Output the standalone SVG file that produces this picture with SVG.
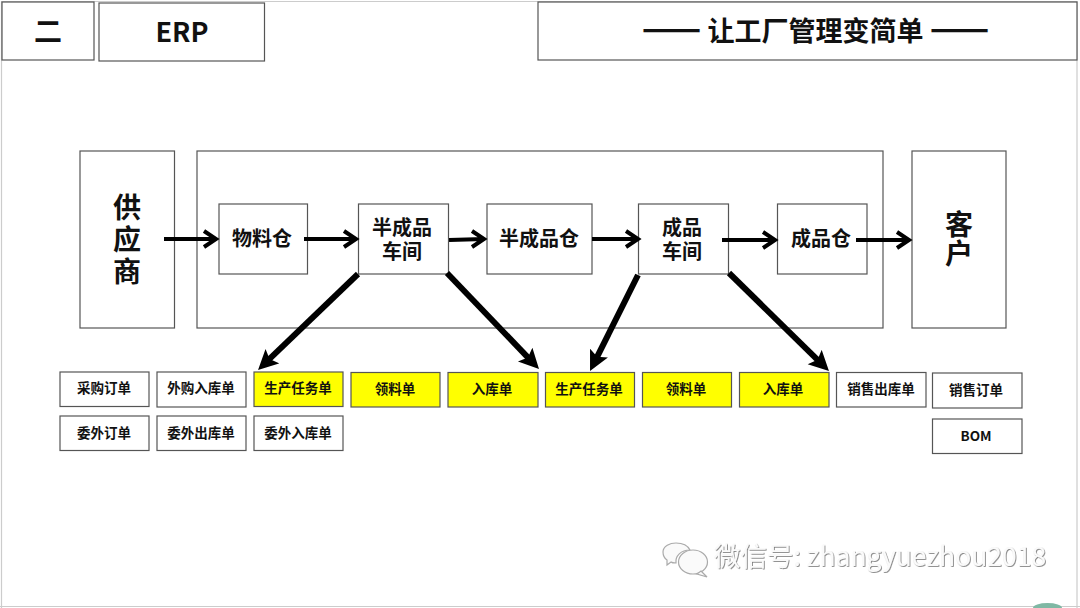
<svg xmlns="http://www.w3.org/2000/svg" width="1080" height="608" viewBox="0 0 1080 608">
<style>
text{font-family:"Noto Sans CJK SC","Liberation Sans",sans-serif;font-weight:700;fill:#111;text-anchor:middle}
.b{fill:#fff;stroke:#555;stroke-width:1.2}
.y{fill:#ffff00;stroke:#555;stroke-width:1.2}
.t{font-size:13.500px}
.m{font-size:20px}
.l{font-size:28px}
.c .a{stroke:#000;fill:none;stroke-width:4}
.c .d{stroke:#000;stroke-width:6;fill:none}
.wm{font-family:"Noto Sans CJK SC","Noto Sans",sans-serif;font-weight:400;fill:#fafafa;filter:url(#em);text-anchor:start}
</style>
<defs>
<marker id="tri" markerUnits="userSpaceOnUse" markerWidth="30" markerHeight="30" refX="8" refY="10" orient="auto"><path d="M0 0L20 10L0 20L4 10Z" fill="#000"/></marker>
<filter id="em" x="-5%" y="-20%" width="110%" height="140%"><feDropShadow dx="0.8" dy="0.8" stdDeviation="0.5" flood-color="#777"/></filter>
</defs>
<rect width="1080" height="608" fill="#fff"/>
<path d="M1.500 608V1.500H1077V608M0 606.500H1080" fill="none" stroke="#ccc" stroke-width="1.200"/>
<path d="M1033 608a14.500 5 0 0 1 29 0Z" fill="#7fb8a4"/>

<g id="n-er"><rect class="b" x="2" y="2" width="92" height="58"/><text x="48" y="42" style="font-size:28px">二</text></g>
<g id="n-erp"><rect class="b" x="99" y="3" width="165.500" height="58"/><text x="182" y="42" style="font-size:27px">ERP</text></g>
<g id="n-title"><rect class="b" x="538" y="2" width="539" height="58"/><text x="815.500" y="41" style="font-size:27px"><tspan style="font-size:35px">——</tspan> 让工厂管理变简单 <tspan style="font-size:35px">——</tspan></text></g>

<g id="n-factory"><rect class="b" x="197" y="151" width="686" height="177"/></g>
<g id="n-supplier"><rect class="b" x="80" y="151" width="94.500" height="177"/><text class="l" x="127" y="218">供<tspan x="127" y="250">应</tspan><tspan x="127" y="282">商</tspan></text></g>
<g id="n-customer"><rect class="b" x="912" y="151" width="94" height="177"/><text class="l" x="959" y="235">客<tspan x="959" y="264">户</tspan></text></g>

<g id="n-wh1"><rect class="b" x="219" y="204" width="88.500" height="70"/><text class="m" x="262" y="246">物料仓</text></g>
<g id="n-ws1"><rect class="b" x="358.500" y="204" width="90" height="70"/><text class="m" x="402" y="235">半成品<tspan x="402" y="259">车间</tspan></text></g>
<g id="n-wh2"><rect class="b" x="487" y="204" width="105" height="70"/><text class="m" x="539" y="246">半成品仓</text></g>
<g id="n-ws2"><rect class="b" x="638.500" y="204" width="90" height="70"/><text class="m" x="682" y="235">成品<tspan x="682" y="259">车间</tspan></text></g>
<g id="n-wh3"><rect class="b" x="777.500" y="204" width="89.500" height="70"/><text class="m" x="821" y="246">成品仓</text></g>

<g id="d1"><rect class="b" x="60" y="372" width="89" height="34.500"/><text class="t" x="104" y="393">采购订单</text></g>
<g id="d2"><rect class="b" x="157" y="372" width="89" height="35"/><text class="t" x="201" y="393">外购入库单</text></g>
<g id="d3"><rect class="y" x="254" y="372" width="89" height="34.500"/><text class="t" x="298" y="393">生产任务单</text></g>
<g id="d4"><rect class="y" x="351" y="372.500" width="89" height="34.500"/><text class="t" x="395" y="394">领料单</text></g>
<g id="d5"><rect class="y" x="448" y="372.500" width="90" height="34.500"/><text class="t" x="492" y="394">入库单</text></g>
<g id="d6"><rect class="y" x="545.500" y="372.500" width="89" height="34.500"/><text class="t" x="589" y="394">生产任务单</text></g>
<g id="d7"><rect class="y" x="642.500" y="372.500" width="89" height="34.500"/><text class="t" x="686" y="394">领料单</text></g>
<g id="d8"><rect class="y" x="739.500" y="372.500" width="89.500" height="34.500"/><text class="t" x="783" y="394">入库单</text></g>
<g id="d9"><rect class="b" x="836.500" y="372.500" width="89.500" height="34.500"/><text class="t" x="881" y="394">销售出库单</text></g>
<g id="d10"><rect class="b" x="932.500" y="373" width="89.500" height="35"/><text class="t" x="976" y="395">销售订单</text></g>
<g id="d11"><rect class="b" x="60" y="416" width="89" height="34.500"/><text class="t" x="104" y="438">委外订单</text></g>
<g id="d12"><rect class="b" x="157" y="416" width="89" height="34.500"/><text class="t" x="201" y="438">委外出库单</text></g>
<g id="d13"><rect class="b" x="254" y="416" width="89" height="34.500"/><text class="t" x="298" y="438">委外入库单</text></g>
<g id="d14"><rect class="b" x="932.500" y="419" width="89.500" height="34.500"/><text class="t" x="976" y="441">BOM</text></g>

<g id="connectors" class="c">
<path class="a" d="M164 239H216M204 231L216 239L204 247"/>
<path class="a" d="M304 239H356M344 231L356 239L344 247"/>
<path class="a" d="M449 240L484 239M472 231L484 239L472 247"/>
<path class="a" d="M592 239H638M626 231L638 239L626 247"/>
<path class="a" d="M722 240H775M763 232L775 240L763 248"/>
<path class="a" d="M856 240H909M897 232L909 240L897 248"/>
<line class="d" x1="358" y1="274" x2="266.700" y2="361.700" marker-end="url(#tri)"/>
<line class="d" x1="447" y1="273" x2="530.700" y2="360.400" marker-end="url(#tri)"/>
<line class="d" x1="638" y1="275" x2="595.400" y2="360.300" marker-end="url(#tri)"/>
<line class="d" x1="729" y1="273" x2="820.400" y2="362.600" marker-end="url(#tri)"/>
</g>

<g id="watermark">
<g fill="#fafafa" stroke="#aaa" stroke-width="1.200">
<path d="M663 552c0-6 7-9 13-9c7 0 12 3 14 7c-9 0-15 6-14 13c-2 0-4 0-5-1l-4 3l0-5c-3-2-4-5-4-8z"/>
<ellipse cx="693" cy="562" rx="14.500" ry="12"/>
<path d="M701 571l6 6l-10-3z"/>
</g>
<text class="wm" x="714" y="566" style="font-size:26.500px">微信号: zhangyuezhou2018</text>
</g>
</svg>
